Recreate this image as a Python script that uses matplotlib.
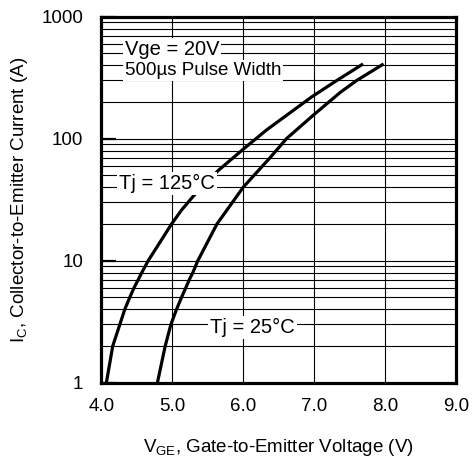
import matplotlib
matplotlib.use("Agg")
import matplotlib.pyplot as plt
from matplotlib.ticker import FixedLocator, LogLocator, NullFormatter

plt.rcParams['font.family'] = ['Liberation Sans', 'DejaVu Sans']
plt.rcParams['mathtext.fontset'] = 'custom'
plt.rcParams['mathtext.rm'] = 'Liberation Sans'

# gate voltage (V) vs collector current (A)
vge_125 = [4.07, 4.16, 4.26, 4.33, 4.40, 4.46, 4.52, 4.57, 4.66, 4.99, 5.13, 5.30,
           5.65, 6.00, 6.33, 6.97, 7.32, 7.69]
ic_125 = [1, 2, 3, 4, 5, 6, 7, 8, 10, 20, 26, 34, 55, 82, 118, 221, 300, 410]
vge_25 = [4.79, 4.90, 4.98, 5.06, 5.13, 5.19, 5.24, 5.29, 5.36, 5.63, 6.00, 6.38,
          6.61, 7.00, 7.37, 7.60, 7.98]
ic_25 = [1, 2, 3, 4, 5, 6, 7, 8, 10, 20, 40, 70, 100, 158, 240, 300, 410]

x_ticks = [4.0, 5.0, 6.0, 7.0, 8.0, 9.0]
x_labels = ["4.0", "5.0", "6.0", "7.0", "8.0", "9.0"]
y_ticks = [1, 10, 100, 1000]
y_labels = ["1", "10", "100", "1000"]

fig = plt.figure(figsize=(4.77, 4.68), dpi=100)
ax = fig.add_axes([0.2126, 0.1823, 0.7432, 0.782])

ax.set_yscale('log')
ax.set_xlim(4.0, 9.0)
ax.set_ylim(1, 1000)

ax.xaxis.set_major_locator(FixedLocator(x_ticks))
ax.set_xticklabels(x_labels)
ax.yaxis.set_major_locator(FixedLocator(y_ticks))
ax.set_yticklabels(y_labels)
ax.yaxis.set_minor_locator(LogLocator(base=10, subs=range(2, 10)))
ax.yaxis.set_minor_formatter(NullFormatter())

ax.grid(True, which='both', axis='y', color='black', linewidth=0.8)
ax.grid(True, which='major', axis='x', color='black', linewidth=0.8)

ax.tick_params(axis='x', which='both', length=0, pad=11, labelsize=13.5)
ax.tick_params(axis='y', which='major', direction='in', length=11, width=1.6,
               pad=13, labelsize=13.5)
ax.tick_params(axis='y', which='minor', length=0)
ax.tick_params(right=False, top=False)

for s in ax.spines.values():
    s.set_linewidth(2.3)

ax.plot(vge_125, ic_125, color='black', linewidth=2.3, solid_capstyle='butt', zorder=3)
ax.plot(vge_25, ic_25, color='black', linewidth=2.3, solid_capstyle='butt', zorder=3)

box = dict(facecolor='white', edgecolor='none', pad=1.5)
ax.text(4.33, 486, "Vge = 20V", fontsize=14.5, ha='left', va='baseline', bbox=box, zorder=4)
ax.text(4.33, 333, "500µs Pulse Width", fontsize=13.5, ha='left', va='baseline', bbox=box, zorder=4)
ax.text(4.25, 38.5, "Tj = 125°C", fontsize=14.5, ha='left', va='baseline', bbox=box, zorder=4)
ax.text(5.53, 2.54, "Tj = 25°C", fontsize=14.5, ha='left', va='baseline', bbox=box, zorder=4)

ax.set_xlabel(r"V$_{\mathrm{GE}}$, Gate-to-Emitter Voltage (V)", fontsize=13.5, labelpad=16)
ax.set_ylabel(r"I$_{\mathrm{C}}$, Collector-to-Emitter Current (A)", fontsize=13.5, labelpad=8)

fig.savefig("out.png", dpi=100)
